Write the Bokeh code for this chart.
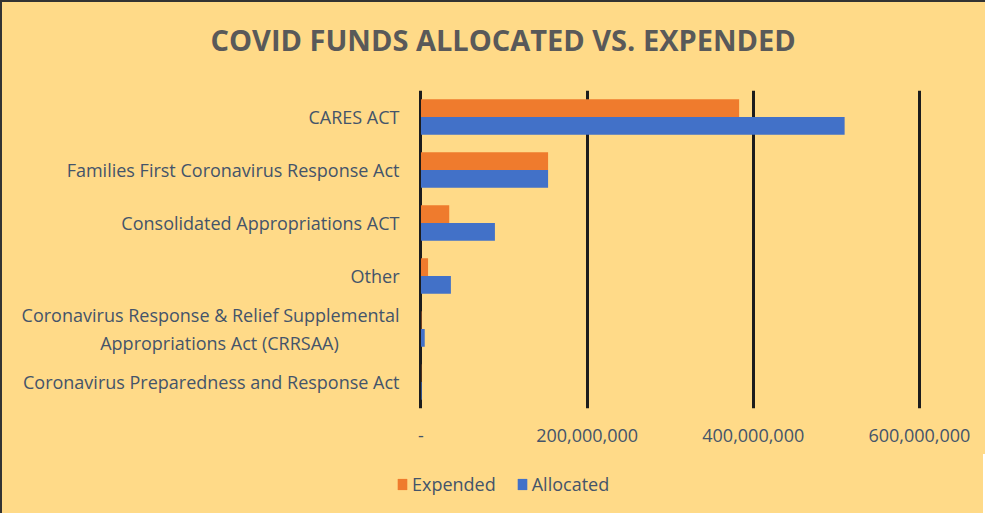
from bokeh.plotting import figure
from bokeh.layouts import column
from bokeh.models import (FactorRange, Range1d, FixedTicker, NumeralTickFormatter,
                          Legend, LegendItem, ColumnDataSource, Title)
from bokeh.transform import dodge
from bokeh.embed import file_html
from bokeh.resources import INLINE

categories = [
    "CARES ACT",
    "Families First Coronavirus Response Act",
    "Consolidated Appropriations ACT",
    "Other",
    "Coronavirus Response & Relief Supplemental\nAppropriations Act (CRRSAA)" + "\u00a0" * 13,
    "Coronavirus Preparedness and Response Act",
]
expended = [383e6, 153e6, 34e6, 8.5e6, 0.5e6, 0.3e6]
allocated = [510e6, 153e6, 89e6, 36e6, 4.5e6, 0.8e6]
x_ticks = [0, 200e6, 400e6, 600e6]

BG = "#FFDA88"
ORANGE = "#EF7B2D"
BLUE = "#4271C8"
TXT = "#44546A"
FONT = "Open Sans"
BORDER = "2px solid #333333"

source = ColumnDataSource(dict(cat=categories, exp=expended, alloc=allocated))

p = figure(frame_width=567, frame_height=316, output_backend="svg", toolbar_location=None,
           title=None,
           x_range=Range1d(-3e6, 682e6),
           y_range=FactorRange(factors=categories[::-1], range_padding=0),
           background_fill_color=BG, border_fill_color=BG,
           min_border_left=416, min_border_right=0, min_border_top=88,
           min_border_bottom=48)
p.styles = {"border-left": BORDER, "border-top": BORDER, "background-color": BG}
p.outline_line_color = None
p.frame_align = False

spacer = Title(text=" ", text_font_size="1px", standoff=29)
main_title = Title(text="COVID FUNDS ALLOCATED VS. EXPENDED", align="left", offset=-208,
                   text_font=FONT, text_font_size="29px", text_font_style="bold",
                   text_color="#595959", standoff=0)
p.add_layout(spacer, "above")
p.add_layout(main_title, "above")

p.hbar(y=dodge("cat", 0.167, range=p.y_range), right="exp", left=0, height=0.333,
       fill_color=ORANGE, line_color=None, source=source)
p.hbar(y=dodge("cat", -0.167, range=p.y_range), right="alloc", left=0, height=0.333,
       fill_color=BLUE, line_color=None, source=source)

p.ygrid.grid_line_color = None
p.xgrid.ticker = FixedTicker(ticks=x_ticks)
p.xgrid.grid_line_color = "#1c1c1c"
p.xgrid.grid_line_width = 3

p.xaxis.ticker = FixedTicker(ticks=x_ticks)
p.xaxis.formatter = NumeralTickFormatter(format="0,0")
p.xaxis.major_label_overrides = {0: "-"}
p.xaxis.axis_line_color = None
p.xaxis.major_tick_line_color = None
p.xaxis.minor_tick_line_color = None
p.xaxis.major_label_standoff = 14
p.xaxis.major_label_text_font = FONT
p.xaxis.major_label_text_font_size = "18px"
p.xaxis.major_label_text_color = TXT

p.yaxis.axis_line_color = None
p.yaxis.major_tick_line_color = None
p.yaxis.minor_tick_line_color = None
p.yaxis.major_label_standoff = 13
p.yaxis.major_label_text_font = FONT
p.yaxis.major_label_text_font_size = "18px"
p.yaxis.major_label_text_color = TXT

# legend strip (bars here fall outside the visible range; only the legend shows)
q = figure(width=983, height=59, output_backend="svg", toolbar_location=None,
           title=None, x_axis_type=None, y_axis_type=None,
           x_range=Range1d(-20, -10), y_range=FactorRange(factors=categories[::-1]),
           background_fill_color=BG, border_fill_color=BG,
           min_border_left=0, min_border_right=0, min_border_top=0, min_border_bottom=0)
q.styles = {"border-left": BORDER, "background-color": BG}
q.outline_line_color = None
q.frame_align = False
q.grid.grid_line_color = None
q_exp = q.hbar(y=dodge("cat", 0.167, range=q.y_range), right="exp", left=0, height=0.333,
               fill_color=ORANGE, line_color=None, source=source)
q_all = q.hbar(y=dodge("cat", -0.167, range=q.y_range), right="alloc", left=0, height=0.333,
               fill_color=BLUE, line_color=None, source=source)

legend = Legend(items=[LegendItem(label="Expended", renderers=[q_exp]),
                       LegendItem(label="Allocated", renderers=[q_all])],
                orientation="horizontal", location=(394, 17),
                background_fill_alpha=0, border_line_color=None,
                label_text_font=FONT, label_text_font_size="18px", label_text_color=TXT,
                glyph_width=12, glyph_height=14, spacing=20, label_standoff=4,
                margin=0, padding=4)
q.add_layout(legend)

layout = column(p, q, spacing=0)
open("out.html", "w").write(file_html(layout, INLINE))
